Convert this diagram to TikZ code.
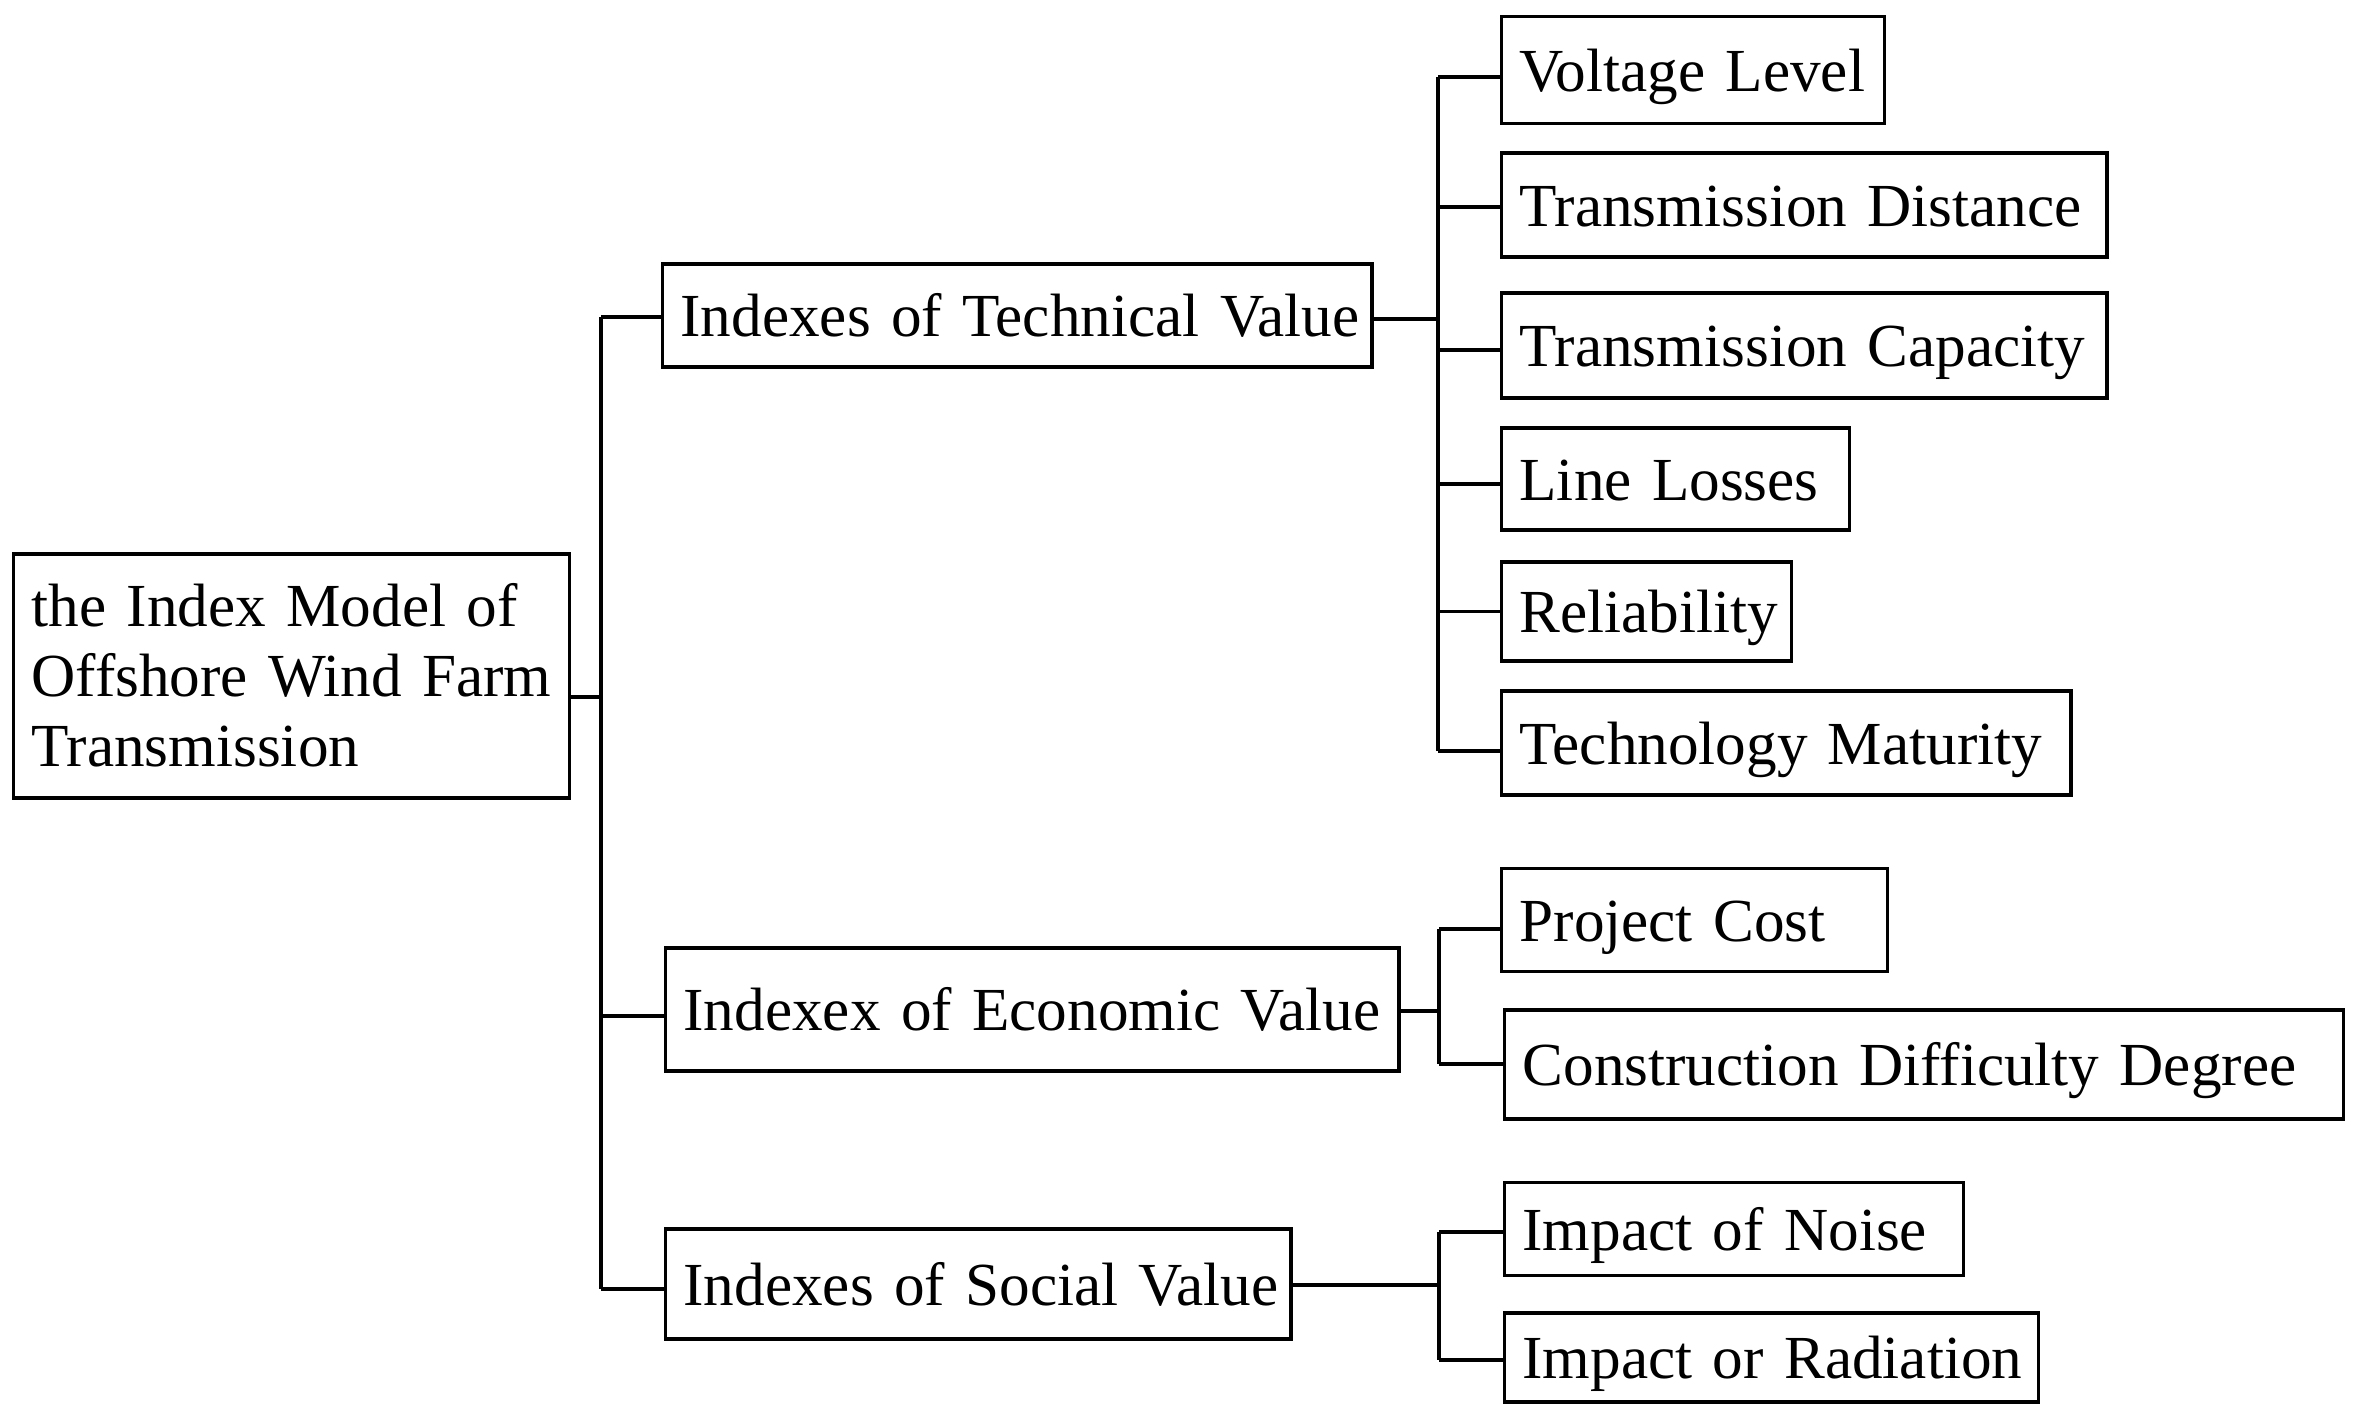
\documentclass[tikz,border=0pt]{standalone}
\usepackage{fontspec}
\setmainfont{Liberation Serif}
\begin{document}
\begin{tikzpicture}[x=0.01cm,y=-0.01cm,
  box/.style={draw, line width=0.9pt, anchor=west, inner xsep=0.18cm, inner ysep=0pt,
    align=left, text height=0.42cm, text depth=0cm,
    font=\fontsize{17.4}{19.9}\selectfont},
  conn/.style={line width=0.9pt}]
\useasboundingbox (0,0) rectangle (2356,1418);
% root and second level
\node[box, minimum width=5.56cm, text width=5.20cm, minimum height=2.44cm, text depth=1.40cm] (root) at (12,676)
  {the Index Model of\\Offshore Wind Farm\\Transmission};
\node[box, minimum width=7.09cm, text width=6.73cm, minimum height=1.03cm] (tech) at (661,315.5) {\mbox{Indexes of Technical Value}};
\node[box, minimum width=7.33cm, text width=6.97cm, minimum height=1.23cm] (econ) at (664,1009.5) {\mbox{Indexex of Economic Value}};
\node[box, minimum width=6.25cm, text width=5.89cm, minimum height=1.10cm] (social) at (664,1284) {\mbox{Indexes of Social Value}};
% leaves
\node[box, minimum width=3.83cm, text width=3.47cm, minimum height=1.065cm] (volt) at (1500,70) {\mbox{Voltage Level}};
\node[box, minimum width=6.05cm, text width=5.69cm, minimum height=1.04cm] (tdist) at (1500,205) {\mbox{Transmission Distance}};
\node[box, minimum width=6.05cm, text width=5.69cm, minimum height=1.05cm] (tcap) at (1500,345.5) {\mbox{Transmission Capacity}};
\node[box, minimum width=3.48cm, text width=3.12cm, minimum height=1.02cm] (loss) at (1500,479) {\mbox{Line Losses}};
\node[box, minimum width=2.90cm, text width=2.54cm, minimum height=0.99cm] (rel) at (1500,611.5) {\mbox{Reliability}};
\node[box, minimum width=5.69cm, text width=5.33cm, minimum height=1.04cm] (tmat) at (1500,743) {\mbox{Technology Maturity}};
\node[box, minimum width=3.86cm, text width=3.50cm, minimum height=1.035cm] (pcost) at (1500,920) {\mbox{Project Cost}};
\node[box, minimum width=8.38cm, text width=8.02cm, minimum height=1.09cm] (cdd) at (1503,1064.5) {\mbox{Construction Difficulty Degree}};
\node[box, minimum width=4.59cm, text width=4.23cm, minimum height=0.935cm] (noise) at (1503,1229) {\mbox{Impact of Noise}};
\node[box, minimum width=5.34cm, text width=4.98cm, minimum height=0.89cm] (rad) at (1503,1357.5) {\mbox{Impact or Radiation}};
% junction points
\coordinate (j0) at (601,697);
\coordinate (tJ) at (601,317);
\coordinate (eJ) at (601,1016);
\coordinate (sJ) at (601,1289);
\coordinate (tR) at (1438,319);
\coordinate (eR) at (1439,1011);
\coordinate (sR) at (1439,1285);
% trunk
\draw[conn] (tJ) -- (sJ);
\draw[conn] (root.east |- j0) -- (j0);
\draw[conn] (tJ) -- (tJ -| tech.west);
\draw[conn] (eJ) -- (eJ -| econ.west);
\draw[conn] (sJ) -- (sJ -| social.west);
% second-level connectors
\draw[conn] (tech.east |- tR) -- (tR);
\draw[conn] (econ.east |- eR) -- (eR);
\draw[conn] (social.east |- sR) -- (sR);
% technical branch
\foreach \n/\y in {volt/77, tdist/207, tcap/350, loss/484, rel/611.5, tmat/751} {
  \coordinate (j\n) at (1438,\y);
  \draw[conn] (j\n) -- (j\n -| \n.west);
}
\draw[conn] (jvolt) -- (jtmat);
% economic branch
\foreach \n/\y in {pcost/929, cdd/1064} {
  \coordinate (j\n) at (1439,\y);
  \draw[conn] (j\n) -- (j\n -| \n.west);
}
\draw[conn] (jpcost) -- (jcdd);
% social branch
\foreach \n/\y in {noise/1232, rad/1360} {
  \coordinate (j\n) at (1439,\y);
  \draw[conn] (j\n) -- (j\n -| \n.west);
}
\draw[conn] (jnoise) -- (jrad);
\end{tikzpicture}
\end{document}
